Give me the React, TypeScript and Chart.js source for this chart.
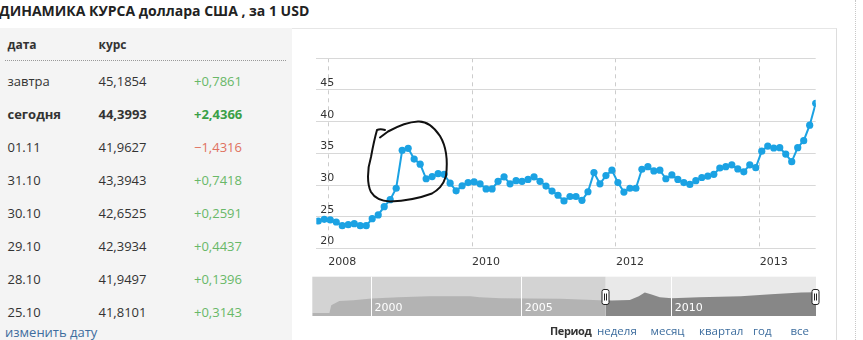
import React, { useEffect, useRef } from "react";
import { Chart, registerables } from "chart.js";

Chart.register(...registerables);

// ---- main chart data ----
const rateValues = [
  24.34, 24.6, 24.5, 24.18, 23.6, 23.76, 23.92, 23.6, 23.6, 24.7, 25.3, 26.6, 27.7, 29.5, 35.5, 35.8,
  34.1, 33.3, 31.0, 31.35, 31.8, 31.7, 30.3, 29.1, 29.9, 30.4, 30.5, 30.2, 29.4, 29.4, 30.6, 31.3,
  30.2, 30.7, 30.6, 30.9, 31.3, 30.6, 29.85, 29.06, 28.4, 27.5, 28.2, 28.2,
  27.6, 28.95, 31.97, 30.2, 31.5, 32.35, 30.4, 28.9, 29.5, 29.5, 32.5, 32.9, 32.24, 32.35, 31.0, 31.6,
  30.9, 30.4, 30.1, 30.7, 31.2, 31.4, 31.7, 32.7, 32.9, 33.2, 32.55, 32.1, 33.2, 32.75, 35.35, 36.15,
  35.85, 35.9, 34.9, 33.7, 35.9, 37.0, 39.45, 42.9,
];
const xTickPositions = [1.66, 25.66, 49.66, 73.66];
const xTickLabels = ["2008", "2010", "2012", "2013"];
const yTickValues = [20, 25, 30, 35, 40, 45, 50];

// ---- navigator data ----
const navYears = [
  1998.03, 1998.6, 1998.66, 1998.93, 1999.4, 2000, 2000.9, 2001.9, 2003.3, 2003.6, 2004.3, 2006.3,
  2007.6, 2007.8, 2008.0, 2008.6, 2008.9, 2009.1, 2009.3, 2009.6, 2010.0, 2010.9, 2012.3, 2013.3,
  2014.3, 2014.8,
];
const navValues = [
  5.1, 5.1, 18, 25, 26.5, 29.4, 31.6, 33.3, 33.3, 31.6, 30, 29, 26.6, 26.6, 26, 27, 33.3, 39.6, 36.7,
  31.6, 30, 31.6, 33.3, 36.7, 39.3, 40,
];
const navTickYears = [2000, 2005, 2010];
const navSelection = [2007.8, 2014.8];

// ---- table data ----
const tableDates = ["завтра", "сегодня", "01.11", "31.10", "30.10", "29.10", "28.10", "25.10"];
const tableRates = ["45,1854", "44,3993", "41,9627", "43,3943", "42,6525", "42,3934", "41,9497", "41,8101"];
const tableChanges = ["+0,7861", "+2,4366", "−1,4316", "+0,7418", "+0,2591", "+0,4437", "+0,1396", "+0,3143"];
const periodLinks = ["неделя", "месяц", "квартал", "год", "все"];

const TABLE_FONT = "'Open Sans', sans-serif";
const AXIS_FONT = "'DejaVu Sans', sans-serif";

function MainChart() {
  const ref = useRef<HTMLCanvasElement | null>(null);
  useEffect(() => {
    if (!ref.current) return;
    const chart = new Chart(ref.current, {
      type: "line",
      data: {
        datasets: [
          {
            data: rateValues.map((v, i) => ({ x: i, y: v })),
            borderColor: "#1ba2e3",
            backgroundColor: "#1ba2e3",
            borderWidth: 2,
            pointRadius: 3.6,
            pointBorderWidth: 0,
            pointHoverRadius: 3.6,
            tension: 0,
          },
        ],
      },
      options: {
        animation: false,
        responsive: false,
        maintainAspectRatio: false,
        events: [],
        layout: { padding: { left: 16.3, right: 21.3, top: 30.3, bottom: 1.3 } },
        plugins: { legend: { display: false }, tooltip: { enabled: false } },
        scales: {
          x: {
            type: "linear",
            min: -0.33,
            max: 83,
            afterBuildTicks: (s: any) => {
              s.ticks = xTickPositions.map((v) => ({ value: v }));
            },
            ticks: {
              callback: (_v: any, i: number) => xTickLabels[i],
              align: "start",
              labelOffset: 0,
              padding: 7,
              color: "#333",
              font: { family: AXIS_FONT, size: 11 },
              maxRotation: 0,
              autoSkip: false,
            },
            grid: { color: "#cccccc", drawTicks: false },
            border: { display: false, dash: [4, 4] },
          },
          y: {
            min: 20,
            max: 50,
            afterBuildTicks: (s: any) => {
              s.ticks = yTickValues.map((v) => ({ value: v }));
            },
            ticks: {
              mirror: true,
              padding: 4,
              labelOffset: -7,
              color: "#333",
              font: { family: AXIS_FONT, size: 11 },
              callback: (v: any) => (v === 50 ? "" : String(v)),
            },
            grid: { color: "#d8d8d8", drawTicks: false },
            border: { display: false },
          },
        },
      },
    } as any);
    return () => chart.destroy();
  }, []);
  return <canvas ref={ref} width={545} height={249} style={{ position: "absolute", left: 292, top: 28, width: 545, height: 249 }} />;
}

function NavChart() {
  const ref = useRef<HTMLCanvasElement | null>(null);
  useEffect(() => {
    if (!ref.current) return;
    const bgPlugin = {
      id: "navbg",
      beforeDraw(chart: any) {
        const { ctx, chartArea } = chart;
        const xs = chart.scales.x;
        const sx = xs.getPixelForValue(navSelection[0]);
        ctx.save();
        ctx.fillStyle = "#d3d3d3";
        ctx.fillRect(chartArea.left, chartArea.top, sx - chartArea.left, chartArea.bottom - chartArea.top);
        ctx.fillStyle = "#e9e9e9";
        ctx.fillRect(sx, chartArea.top, chartArea.right - sx, chartArea.bottom - chartArea.top);
        ctx.restore();
      },
      afterDraw(chart: any) {
        const { ctx, chartArea } = chart;
        const xs = chart.scales.x;
        const cy = (chartArea.top + chartArea.bottom) / 2;
        navSelection.forEach((yr) => {
          const px = Math.round(xs.getPixelForValue(yr)) - 0.5;
          ctx.save();
          ctx.beginPath();
          const w = 7, h = 15, r = 2;
          const x0 = px - w / 2, y0 = Math.round(cy - h / 2) + 0.5;
          ctx.moveTo(x0 + r, y0);
          ctx.lineTo(x0 + w - r, y0);
          ctx.quadraticCurveTo(x0 + w, y0, x0 + w, y0 + r);
          ctx.lineTo(x0 + w, y0 + h - r);
          ctx.quadraticCurveTo(x0 + w, y0 + h, x0 + w - r, y0 + h);
          ctx.lineTo(x0 + r, y0 + h);
          ctx.quadraticCurveTo(x0, y0 + h, x0, y0 + h - r);
          ctx.lineTo(x0, y0 + r);
          ctx.quadraticCurveTo(x0, y0, x0 + r, y0);
          ctx.fillStyle = "#ffffff";
          ctx.fill();
          ctx.strokeStyle = "#222";
          ctx.lineWidth = 1;
          ctx.stroke();
          ctx.beginPath();
          ctx.moveTo(px - 1, y0 + 4);
          ctx.lineTo(px - 1, y0 + h - 4);
          ctx.moveTo(px + 1, y0 + 4);
          ctx.lineTo(px + 1, y0 + h - 4);
          ctx.stroke();
          ctx.restore();
        });
      },
    };
    const chart = new Chart(ref.current, {
      type: "line",
      data: {
        datasets: [
          {
            data: navYears.map((y, i) => ({ x: y, y: navValues[i] })),
            borderWidth: 0,
            borderColor: "rgba(0,0,0,0)",
            pointRadius: 0,
            fill: "origin",
            backgroundColor: "#b3b3b3",
            segment: {
              backgroundColor: (c: any) => (c.p0.parsed.x >= navSelection[0] ? "#878787" : "#b3b3b3"),
            },
            tension: 0,
          },
        ],
      },
      options: {
        animation: false,
        responsive: false,
        maintainAspectRatio: false,
        events: [],
        layout: { padding: { left: 20.3, right: 21, top: 6.7, bottom: 9 } },
        plugins: { legend: { display: false }, tooltip: { enabled: false } },
        scales: {
          x: {
            type: "linear",
            min: navYears[0],
            max: navYears[navYears.length - 1],
            afterBuildTicks: (s: any) => {
              s.ticks = navTickYears.map((v) => ({ value: v }));
            },
            ticks: {
              z: 2,
              align: "start",
              labelOffset: 3,
              padding: -14,
              color: "#ffffff",
              font: { family: AXIS_FONT, size: 11 },
              maxRotation: 0,
              autoSkip: false,
              callback: (v: any) => String(v),
            },
            grid: { z: 1, color: "#ffffff", drawTicks: false },
            border: { display: false },
          },
          y: { display: false, min: 0, max: 66 },
        },
      },
      plugins: [bgPlugin],
    } as any);
    return () => chart.destroy();
  }, []);
  return <canvas ref={ref} width={545} height={55} style={{ position: "absolute", left: 292, top: 270, width: 545, height: 55 }} />;
}

function T(props: { x: number; y: number; children: any; style?: any }) {
  return (
    <div
      style={{
        position: "absolute",
        left: props.x,
        top: props.y - 10,
        lineHeight: "20px",
        whiteSpace: "nowrap",
        fontFamily: TABLE_FONT,
        fontSize: 13,
        color: "#333",
        ...props.style,
      }}
    >
      {props.children}
    </div>
  );
}

export default function App() {
  const rowY0 = 80.5;
  const rowStep = 33;
  const linkX = [597, 650.5, 699, 753, 790.5];
  return (
    <div
      style={{
        position: "fixed",
        left: 0,
        top: 0,
        width: 863,
        height: 340,
        background: "#ffffff",
        overflow: "hidden",
      }}
    >
      <T x={-1} y={11} style={{ fontWeight: 700, fontSize: 14, color: "#222" }}>
        ДИНАМИКА КУРСА доллара США , за 1 USD
      </T>
      <div style={{ position: "absolute", left: 0, top: 28, width: 292, height: 312, background: "#f4f4f4" }} />
      <T x={7.5} y={45} style={{ fontWeight: 700, fontSize: 12 }}>дата</T>
      <T x={98.5} y={45} style={{ fontWeight: 700, fontSize: 12 }}>курс</T>
      <div style={{ position: "absolute", left: 5, top: 60, width: 281, height: 0, borderTop: "1px dotted #999" }} />
      {tableDates.map((d, i) => {
        const y = rowY0 + i * rowStep;
        const bold = i === 1;
        const neg = tableChanges[i].startsWith("−");
        const chColor = neg ? "#e0715f" : bold ? "#3aa047" : "#68b868";
        return (
          <React.Fragment key={d}>
            <T x={7.5} y={y} style={{ fontWeight: bold ? 700 : 400 }}>{d}</T>
            <T x={98.5} y={y} style={{ fontWeight: bold ? 700 : 400 }}>{tableRates[i]}</T>
            <T x={194} y={y} style={{ fontWeight: bold ? 700 : 400, color: chColor }}>{tableChanges[i]}</T>
          </React.Fragment>
        );
      })}
      <T x={5} y={332} style={{ color: "#3d6d9e" }}>изменить дату</T>
      <div
        style={{
          position: "absolute",
          left: 292,
          top: 28,
          width: 544,
          height: 320,
          background: "#ffffff",
          borderTop: "1px solid #e6e6e6",
          borderRight: "1px solid #dddddd",
        }}
      />
      <div style={{ position: "absolute", left: 855, top: 0, width: 0, height: 340, borderLeft: "1px dotted #c8c8c8" }} />
      <MainChart />
      <NavChart />
      <T x={550} y={330.5} style={{ fontWeight: 700, fontSize: 11, letterSpacing: -0.4 }}>Период</T>
      {periodLinks.map((l, i) => (
        <T key={l} x={linkX[i]} y={330.5} style={{ fontSize: 11.5, color: "#3d6d9e" }}>{l}</T>
      ))}
      <svg width={863} height={340} style={{ position: "absolute", left: 0, top: 0, pointerEvents: "none" }}>
        <path
          d="M380,137.5 L388,131.5 C398,126 408,122 418,121.5 C426,121 434,127 440,136 C446,146 448,160 446,176 C443,186 438,190 432,193.5 C420,198 405,201 390,201.5 C381,201 374,197 371,192 C367,184 367,170 371,157 C373,146 375,137 377,130 C379,129 382,129 385,130"
          fill="none"
          stroke="#111"
          strokeWidth={2}
          strokeLinecap="round"
          strokeLinejoin="round"
        />
      </svg>
    </div>
  );
}
